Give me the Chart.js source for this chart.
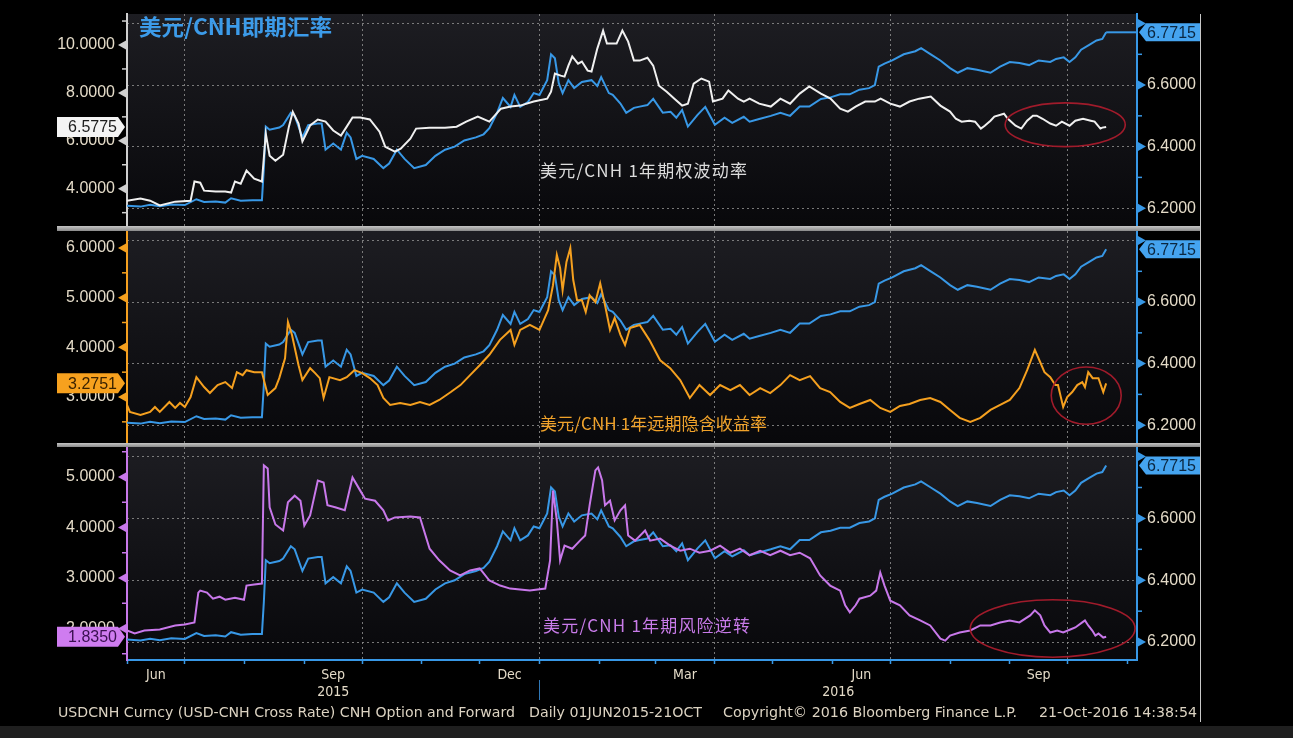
<!DOCTYPE html>
<html>
<head>
<meta charset="utf-8">
<script src="https://cdn.jsdelivr.net/npm/chart.js@4.4.1/dist/chart.umd.min.js"></script>
<style>
  html, body { margin:0; padding:0; background:#000; }
  #page { position:relative; width:1293px; height:738px; background:#000; overflow:hidden; }
  canvas { position:absolute; left:0; }
  .sep { position:absolute; left:57px; width:1143px; background:linear-gradient(#c4c4c4,#8a8a8a); }
  #frame { position:absolute; left:1200px; top:14px; width:1px; height:708px; background:#c8c8c8; }
  #strip { position:absolute; left:0; top:726px; width:1293px; height:12px; background:#1f1f1f; }
  svg { position:absolute; left:0; top:0; }
</style>
</head>
<body>
<div id="page">
  <canvas id="c1" width="1293" height="226" style="top:0px"></canvas>
  <div class="sep" style="top:226px;height:5px"></div>
  <canvas id="c2" width="1293" height="212" style="top:231px"></canvas>
  <div class="sep" style="top:443px;height:4px"></div>
  <canvas id="c3" width="1293" height="291" style="top:447px"></canvas>
  <div id="frame"></div>
  <div id="strip"></div>
  <svg width="1293" height="738" xmlns="http://www.w3.org/2000/svg">
    <text x="139" y="35" font-family="'Noto Sans CJK SC'" font-weight="700" font-size="22" fill="#3c9be9" textLength="193" lengthAdjust="spacingAndGlyphs">美元/CNH即期汇率</text>
    <text x="540" y="177" font-family="'Noto Sans CJK SC'" font-size="17" fill="#dcdcdc" textLength="207" lengthAdjust="spacing">美元/CNH 1年期权波动率</text>
    <text x="540" y="430" font-family="'Noto Sans CJK SC'" font-size="17" fill="#f0a22a" textLength="227" lengthAdjust="spacing">美元/CNH 1年远期隐含收益率</text>
    <text x="543" y="632" font-family="'Noto Sans CJK SC'" font-size="17" fill="#c87be9" textLength="207" lengthAdjust="spacing">美元/CNH 1年期风险逆转</text>
    <g font-family="'DejaVu Sans Condensed','DejaVu Sans',sans-serif" font-size="13.5" fill="#dcd3c2">
      <text x="58" y="717" textLength="457" lengthAdjust="spacingAndGlyphs">USDCNH Curncy (USD-CNH Cross Rate) CNH Option and Forward</text>
      <text x="529" y="717" textLength="173" lengthAdjust="spacingAndGlyphs">Daily 01JUN2015-21OCT</text>
      <text x="723" y="717" textLength="294" lengthAdjust="spacingAndGlyphs">Copyright© 2016 Bloomberg Finance L.P.</text>
      <text x="1039" y="717" textLength="158" lengthAdjust="spacingAndGlyphs">21-Oct-2016 14:38:54</text>
    </g>
  </svg>
</div>
<script>
// ---------------- DATA (days since 01-Jun-2015) ----------------
const usdDays = [0,7,12,17,23,30,36,40,46,51,54,59,65,70,71,72,74,79,81,85,87,91,94,99,101,103,107,111,114,116,119,122,128,133,136,140,144,149,155,160,165,170,175,181,185,188,192,195,199,201,204,208,211,214,218,220,222,224,226,229,232,236,241,244,246,250,252,256,259,263,266,270,273,278,282,285,288,291,296,300,305,310,314,320,323,328,334,339,344,349,354,360,365,370,375,380,385,388,390,393,397,403,409,412,417,422,427,431,436,441,448,453,458,463,468,473,479,482,486,489,492,495,499,503,506,508];
const usdCnh = [6.208,6.205,6.211,6.206,6.212,6.210,6.229,6.220,6.222,6.218,6.232,6.224,6.226,6.226,6.330,6.465,6.455,6.462,6.470,6.510,6.500,6.430,6.470,6.475,6.475,6.390,6.410,6.390,6.445,6.430,6.360,6.370,6.360,6.330,6.345,6.390,6.360,6.330,6.340,6.370,6.390,6.400,6.420,6.430,6.440,6.460,6.510,6.558,6.529,6.568,6.529,6.545,6.574,6.568,6.616,6.700,6.687,6.606,6.574,6.616,6.590,6.610,6.616,6.597,6.626,6.574,6.568,6.540,6.510,6.526,6.530,6.535,6.555,6.510,6.513,6.494,6.519,6.465,6.503,6.529,6.471,6.494,6.477,6.497,6.481,6.490,6.500,6.510,6.500,6.530,6.530,6.555,6.560,6.570,6.570,6.585,6.590,6.600,6.660,6.670,6.680,6.700,6.710,6.720,6.700,6.680,6.655,6.640,6.655,6.650,6.640,6.660,6.675,6.672,6.665,6.680,6.675,6.685,6.690,6.675,6.690,6.715,6.730,6.745,6.750,6.7715];

const volDays = [0,7,12,17,25,33,35,38,40,46,51,54,56,59,62,66,70,72,74,77,81,84,86,89,91,95,99,103,107,111,114,117,121,126,131,134,139,142,147,150,157,165,171,176,182,188,194,199,204,211,218,220,222,225,227,229,231,234,236,239,241,244,247,249,254,257,260,263,266,270,273,276,280,284,288,291,294,298,302,304,309,312,317,320,323,328,334,339,344,349,354,360,365,370,374,378,383,388,391,396,401,406,411,417,422,427,430,433,437,440,443,445,448,450,455,457,461,464,467,470,472,475,479,482,485,489,492,496,500,502,505,506,508];
const volVals = [3.50,3.59,3.50,3.30,3.46,3.50,4.30,4.25,3.92,3.88,3.88,3.84,4.30,4.21,4.76,4.42,4.30,6.30,5.38,5.17,5.42,6.59,7.21,6.72,5.97,6.64,6.89,6.80,6.43,6.22,6.59,6.97,6.97,6.89,6.38,5.75,5.55,5.67,6.09,6.51,6.55,6.55,6.59,6.80,7.01,6.80,7.34,7.43,7.47,7.64,7.76,8.05,8.81,8.72,8.68,9.14,9.52,9.22,9.31,8.93,8.89,9.85,10.60,10.06,10.06,10.60,10.14,9.35,9.35,9.47,9.14,8.30,8.05,7.76,7.47,7.55,8.39,8.60,8.47,7.64,7.76,8.10,7.76,7.64,7.76,7.55,7.43,7.76,7.55,7.97,8.27,7.97,7.76,7.34,7.22,7.43,7.64,7.64,7.76,7.55,7.43,7.64,7.76,7.85,7.47,7.22,6.92,6.80,6.84,6.80,6.51,6.63,6.84,7.01,7.13,6.92,6.63,6.51,6.84,7.05,7.05,6.92,6.72,6.63,6.80,6.63,6.84,6.92,6.84,6.80,6.51,6.55,6.5775];

const fwdDays = [0,1.5,7,12,14.5,17,22,25,27.5,30,33,36,40,43,47,51,54.5,57,60,62,66,70,73,77,79,82,83.5,85.6,89,91,95,97.6,100,102,105,110.5,114,118,122,126,130,133,136.5,141.7,147,152,157,162,168,173,178,183,188,193.5,199,201,204,209,214,218.5,221,223,224.7,226,228,230,231.5,233.5,236,238,240,243,245.5,248,250.6,253,256,258.4,261,266,271,276.6,281.8,287,292,297,302.5,307.7,313,318,323,328.5,333.7,339,344,349,354.4,359.6,364.8,370,375,380,385.6,390.8,396,401,406,411.5,416.7,422,427,432,437.5,442.7,448,453,458,463,467,471,473.8,476,479,481.6,483,485.7,487.8,490.4,493,495.6,497,498.7,501,504,506.5,508];
const fwdVals = [2.84,2.70,2.64,2.70,2.80,2.70,2.90,2.78,2.88,2.80,3.00,3.40,3.20,3.08,3.24,3.30,3.18,3.50,3.44,3.54,3.50,3.50,3.04,3.18,3.38,3.78,4.51,4.25,3.64,3.34,3.58,3.48,3.38,2.98,3.40,3.34,3.40,3.54,3.48,3.38,3.24,2.98,2.84,2.88,2.84,2.90,2.84,2.94,3.10,3.24,3.44,3.64,3.85,4.15,4.35,4.05,4.35,4.45,4.35,4.75,5.25,5.86,5.60,5.15,5.72,6.00,5.36,4.95,4.95,4.71,5.05,4.91,5.29,4.85,4.35,4.59,4.25,4.05,4.39,4.45,4.15,3.74,3.58,3.34,2.98,3.24,3.04,3.24,3.14,3.24,3.04,3.18,3.08,3.24,3.44,3.34,3.42,3.18,3.10,2.90,2.78,2.86,2.94,2.78,2.70,2.82,2.86,2.94,2.98,2.90,2.74,2.58,2.50,2.58,2.74,2.84,2.94,3.18,3.54,3.95,3.70,3.50,3.40,3.24,3.24,2.80,3.00,3.10,3.24,3.30,3.20,3.50,3.38,3.38,3.10,3.2751];

const rrDays = [0,4,9,17,25,30,35,37,38,41.5,44.6,48,51,56,60.7,62,66,70,71,73,74,77,81,83.5,87,90,92,95,99,102,104,108,113,117,121,123.5,128.7,133,135.4,139,147,152,157,162,167.6,172.8,178,183,188,193.6,198.8,209,217,219.5,221,223,224.7,227,231,235,237.7,240,243,244.4,246.5,248,250.6,253,256,258.4,260,263.6,268.8,271.4,276.6,281.8,287,292,297,302.5,307.7,313,318,323,328.5,333.7,339,344,349,354.4,359.6,364.8,370,372.6,375,378,380,385.6,388.7,390.8,393,396,401,406,411.5,416.7,422,424.5,427,432,437.5,442.7,448,453,458,463,468.6,471,473.8,476,479,482.6,485.7,489.4,492,495.6,497,498.7,500.8,502.4,504,506.5,508];
const rrVals = [1.96,1.90,1.96,1.98,2.06,2.08,2.12,2.71,2.75,2.71,2.59,2.63,2.57,2.61,2.57,2.85,2.87,2.89,5.23,5.17,4.40,4.06,3.94,4.50,4.63,4.53,4.04,4.24,4.93,4.89,4.44,4.40,4.34,4.99,4.73,4.57,4.53,4.34,4.14,4.20,4.22,4.20,3.58,3.35,3.15,3.05,3.15,3.19,2.95,2.85,2.79,2.75,2.79,3.35,4.73,4.14,3.35,3.64,3.58,3.74,3.84,4.44,5.13,5.19,4.93,4.44,4.53,4.14,4.34,4.44,3.84,3.74,3.94,3.74,3.78,3.64,3.54,3.58,3.50,3.54,3.64,3.50,3.58,3.45,3.54,3.45,3.54,3.45,3.50,3.39,3.05,2.85,2.75,2.46,2.32,2.46,2.59,2.65,2.75,3.11,2.85,2.55,2.46,2.26,2.16,2.06,1.80,1.76,1.86,1.92,1.96,2.06,2.06,2.12,2.16,2.12,2.26,2.36,2.26,2.06,1.92,1.96,1.92,1.98,2.02,2.12,2.16,2.06,1.96,1.86,1.90,1.82,1.835];

// axis ticks
const rightTicks = [6.2,6.3,6.4,6.5,6.6,6.7,6.8];
const rightMajor = [6.2,6.4,6.6,6.8];
const rightLabels = [6.2,6.4,6.6];
const volTicks = [3,4,5,6,7,8,9,10,11];
const volMajor = [4,6,8,10];
const fwdTicks = [2.5,3,3.5,4,4.5,5,5.5,6];
const fwdMajor = [3,4,5,6];
const rrTicks = [1.5,2,2.5,3,3.5,4,4.5,5,5.5];
const rrMajor = [2,3,4,5];

// x axis: month starts (days since 01-Jun-2015)
const monthStarts = [0,30,61,92,122,153,183,214,245,274,305,335,366,396,427,458,488,519];
const quarterStarts = [30,122,214,305,396,488];
const monthLabelDays = [15,107,198.5,289.5,381,473];
const monthLabels = ['Jun','Sep','Dec','Mar','Jun','Sep'];
const yearBreak = 214;
const yearLabels = ['2015','2016'];
const X_MAX = 524;

// ---------------- STYLE ----------------
const BLUE = '#3898e6', WHITE = '#f0f0f0', ORANGE = '#f5a01f', VIOLET = '#c878ea';
const TXT = '#e4dbc8', GRID = 'rgba(140,140,140,0.85)';
const PLOT_L = 127, PLOT_R = 1137, W = 1293;
const NUMFONT = "'Liberation Sans', Arial, sans-serif";
const COND = "'DejaVu Sans Condensed', 'DejaVu Sans', sans-serif";
const R_MIN = 6.142, R_MAX = 6.831;

const near = (v, arr) => arr.some(a => Math.abs(a - v) < 1e-6);
const pts = (xs, ys) => xs.map((d, i) => ({x: d, y: ys[i]}));
const noPad = s => { s.paddingTop = 0; s.paddingBottom = 0; s.paddingLeft = 0; s.paddingRight = 0; };

const xTickValues = [...monthStarts, ...monthLabelDays].sort((a, b) => a - b);

function makeX(showLabels) {
  return {
    type: 'linear', min: 0, max: X_MAX,
    afterBuildTicks: s => { s.ticks = xTickValues.map(v => ({value: v})); },
    afterFit: s => { s.height = showLabels ? 78 : 0; noPad(s); },
    ticks: {
      display: showLabels, autoSkip: false, maxRotation: 0, minRotation: 0, padding: 3,
      color: TXT, font: {family: COND, size: 14},
      callback: v => { const i = monthLabelDays.indexOf(v); return i >= 0 ? monthLabels[i] : ''; }
    },
    grid: {
      color: c => (c.tick && near(c.tick.value, quarterStarts)) ? GRID : 'transparent',
      lineWidth: 1, drawTicks: showLabels, tickLength: 4, tickWidth: 1.5,
      tickColor: c => (c.tick && near(c.tick.value, monthStarts)) ? BLUE : 'transparent'
    },
    border: { display: showLabels, color: BLUE, width: 2, dash: [2, 3] }
  };
}

function makeDecor(p) {
  return {
    id: 'decor' + p.id,
    beforeDraw(chart) {
      const {ctx, chartArea: a} = chart;
      const g = ctx.createLinearGradient(0, a.top, 0, a.bottom);
      g.addColorStop(0, '#1d1d22'); g.addColorStop(1, '#08080b');
      ctx.save(); ctx.fillStyle = g; ctx.fillRect(a.left, a.top, a.right - a.left, a.bottom - a.top); ctx.restore();
    },
    afterDraw(chart) {
      const {ctx, chartArea: a, scales} = chart;
      const yL = scales.yL, yR = scales.yR, xs = scales.x;
      ctx.save();
      // left tick marks
      ctx.fillStyle = p.axisColor; ctx.strokeStyle = p.axisColor; ctx.lineWidth = 1.5;
      p.leftTicks.forEach(v => {
        const y = yL.getPixelForValue(v);
        ctx.beginPath();
        if (near(v, p.leftMajor)) { ctx.moveTo(a.left - 1, y - 4.5); ctx.lineTo(a.left - 9, y); ctx.lineTo(a.left - 1, y + 4.5); ctx.closePath(); ctx.fill(); }
        else { ctx.moveTo(a.left - 5, y); ctx.lineTo(a.left, y); ctx.stroke(); }
      });
      // right tick marks
      ctx.fillStyle = BLUE; ctx.strokeStyle = BLUE;
      rightTicks.forEach(v => {
        const y = yR.getPixelForValue(v);
        ctx.beginPath();
        if (near(v, rightMajor)) { ctx.moveTo(a.right + 1, y - 4.5); ctx.lineTo(a.right + 9, y); ctx.lineTo(a.right + 1, y + 4.5); ctx.closePath(); ctx.fill(); }
        else { ctx.moveTo(a.right, y); ctx.lineTo(a.right + 5, y); ctx.stroke(); }
      });
      // red ellipse annotation (in data coordinates)
      const [d1, d2, v1, v2] = p.ellipse;
      const ex1 = xs.getPixelForValue(d1), ex2 = xs.getPixelForValue(d2);
      const ey1 = yR.getPixelForValue(v1), ey2 = yR.getPixelForValue(v2);
      ctx.beginPath();
      ctx.ellipse((ex1 + ex2) / 2, (ey1 + ey2) / 2, Math.abs(ex2 - ex1) / 2, Math.abs(ey2 - ey1) / 2, 0, 0, Math.PI * 2);
      ctx.strokeStyle = '#a01b2b'; ctx.lineWidth = 1.6; ctx.stroke();
      // last-price leader line
      const lastUsd = usdCnh[usdCnh.length - 1];
      const yU = yR.getPixelForValue(lastUsd);
      if (p.leader) {
        ctx.beginPath(); ctx.moveTo(xs.getPixelForValue(usdDays[usdDays.length - 1]), yU); ctx.lineTo(a.right, yU);
        ctx.strokeStyle = BLUE; ctx.lineWidth = 2; ctx.stroke();
      }
      // left value box
      const lastL = p.vals[p.vals.length - 1];
      const yl = yL.getPixelForValue(lastL);
      ctx.beginPath();
      ctx.moveTo(57, yl - 10); ctx.lineTo(118, yl - 10); ctx.lineTo(125, yl); ctx.lineTo(118, yl + 10); ctx.lineTo(57, yl + 10); ctx.closePath();
      ctx.fillStyle = p.boxColor; ctx.fill();
      ctx.fillStyle = p.boxText; ctx.font = '16px ' + NUMFONT; ctx.textAlign = 'right'; ctx.textBaseline = 'middle';
      ctx.fillText(lastL.toFixed(4), 117, yl + 1);
      // right value box
      ctx.beginPath();
      ctx.moveTo(a.right + 2, yU); ctx.lineTo(a.right + 9, yU - 9); ctx.lineTo(1200, yU - 9); ctx.lineTo(1200, yU + 9); ctx.lineTo(a.right + 9, yU + 9); ctx.closePath();
      ctx.fillStyle = '#45a4f0'; ctx.fill();
      ctx.fillStyle = '#0b2740'; ctx.textAlign = 'left';
      ctx.fillText(lastUsd.toFixed(4), a.right + 10, yU + 1);
      // year row
      if (p.years) {
        const b = a.bottom;
        ctx.fillStyle = TXT; ctx.font = '14px ' + COND; ctx.textAlign = 'center'; ctx.textBaseline = 'middle';
        ctx.fillText(yearLabels[0], xs.getPixelForValue(yearBreak / 2), b + 32);
        ctx.fillText(yearLabels[1], xs.getPixelForValue((yearBreak + X_MAX) / 2), b + 32);
        const xb = Math.round(xs.getPixelForValue(yearBreak)) + 0.5;
        ctx.beginPath(); ctx.moveTo(xb, b + 20); ctx.lineTo(xb, b + 40);
        ctx.strokeStyle = '#2f78b8'; ctx.lineWidth = 1; ctx.stroke();
      }
      ctx.restore();
    }
  };
}

function makeChart(canvasId, p) {
  return new Chart(document.getElementById(canvasId), {
    type: 'line',
    data: {
      datasets: [
        { data: pts(p.days, p.vals), yAxisID: 'yL', borderColor: p.color, borderWidth: 2, pointRadius: 0, tension: 0 },
        { data: pts(usdDays, usdCnh), yAxisID: 'yR', borderColor: BLUE, borderWidth: 2, pointRadius: 0, tension: 0 }
      ]
    },
    options: {
      responsive: false, animation: false, events: [],
      layout: { autoPadding: false, padding: { top: p.padTop, bottom: 0, left: 0, right: 0 } },
      plugins: { legend: { display: false }, tooltip: { enabled: false } },
      scales: {
        x: makeX(p.years),
        yL: {
          position: 'left', min: p.lmin, max: p.lmax,
          afterBuildTicks: s => { s.ticks = p.leftTicks.map(v => ({value: v})); },
          afterFit: s => { s.width = PLOT_L; noPad(s); },
          ticks: { autoSkip: false, padding: 12, color: TXT, font: { family: NUMFONT, size: 16 },
                   callback: v => near(v, p.leftMajor) ? v.toFixed(4) : '' },
          grid: { display: false, drawTicks: false },
          border: { display: true, color: p.axisColor, width: 2 }
        },
        yR: {
          position: 'right', min: R_MIN, max: R_MAX,
          afterBuildTicks: s => { s.ticks = rightTicks.map(v => ({value: v})); },
          afterFit: s => { s.width = W - PLOT_R; noPad(s); },
          ticks: { autoSkip: false, padding: 10, color: TXT, font: { family: NUMFONT, size: 16 },
                   callback: v => near(v, rightLabels) ? v.toFixed(4) : '' },
          grid: { color: c => (c.tick && near(c.tick.value, rightMajor)) ? GRID : 'transparent', lineWidth: 1, drawTicks: false },
          border: { display: true, color: BLUE, width: 2, dash: [2, 3] }
        }
      }
    },
    plugins: [makeDecor(p)]
  });
}

makeChart('c1', { id: 1, days: volDays, vals: volVals, color: WHITE, axisColor: '#d0d0d0', padTop: 14,
  lmin: 2.443, lmax: 11.294, leftTicks: volTicks, leftMajor: volMajor,
  boxColor: '#f4f4f4', boxText: '#1e1e1e', ellipse: [455.6, 517.9, 6.400, 6.542], leader: true, years: false });
makeChart('c2', { id: 2, days: fwdDays, vals: fwdVals, color: ORANGE, axisColor: ORANGE, padTop: 0,
  lmin: 2.074, lmax: 6.342, leftTicks: fwdTicks, leftMajor: fwdMajor,
  boxColor: '#f7a11e', boxText: '#3a2200', ellipse: [479.5, 515.8, 6.203, 6.389], leader: false, years: false });
makeChart('c3', { id: 3, days: rrDays, vals: rrVals, color: VIOLET, axisColor: VIOLET, padTop: 0,
  lmin: 1.376, lmax: 5.594, leftTicks: rrTicks, leftMajor: rrMajor,
  boxColor: '#cf7cf0', boxText: '#3a1050', ellipse: [437.5, 523, 6.151, 6.337], leader: false, years: true });
</script>
</body>
</html>
